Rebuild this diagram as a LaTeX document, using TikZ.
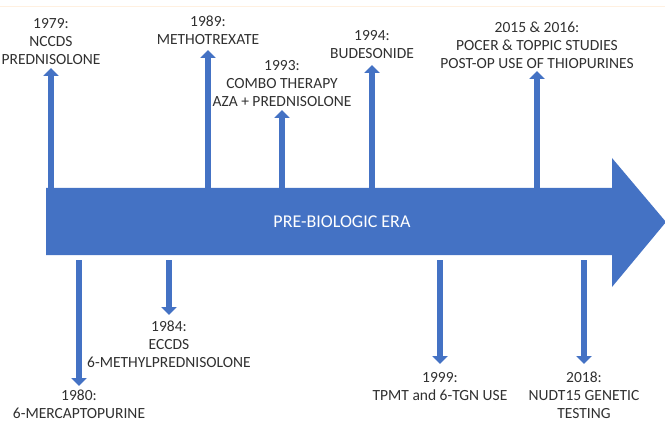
\documentclass[tikz,border=0pt]{standalone}
\usepackage{fontspec}
\setmainfont{Carlito}
\usetikzlibrary{arrows.meta,positioning}
\usepackage{xcolor}
\definecolor{eraBlue}{HTML}{4472C4}
\definecolor{labelGray}{HTML}{303030}

\begin{document}
\begin{tikzpicture}[x=1pt, y=1pt,
    every node/.style={
        align=center,
        font=\fontsize{15.5}{18}\selectfont,
        text=labelGray,
        inner sep=2pt
    },
    event_arrow/.style={
        line width=6pt,
        eraBlue,
        -{Triangle[width=15pt, length=8pt]}
    },
    tip_gap/.style={shorten >=#1}]
    \useasboundingbox (0, 0) rectangle (665, 424);
    \draw[orange!12, line width=0.8pt] (0, 418) -- (665, 418);
    \fill[eraBlue] (46, 236) -- (612, 236) -- (612, 266) -- (666, 202)
        -- (612, 137) -- (612, 169) -- (46, 169) -- cycle;
    \coordinate (bar_top) at (0, 236);
    \coordinate (bar_bottom) at (0, 164);
    \node (era) [text=white, font=\fontsize{18}{20}\selectfont] at (344, 202)
    {
        PRE-BIOLOGIC ERA
    };
    \node (label_1979) [anchor=south] at (51, 357)
    {
        1979:\\NCCDS\\PREDNISOLONE
    };
    \node (label_1989) [anchor=south] at (208, 377)
    {
        1989:\\METHOTREXATE
    };
    \node (label_1993) [anchor=south] at (282, 315)
    {
        1993:\\COMBO THERAPY\\AZA + PREDNISOLONE
    };
    \node (label_1994) [anchor=south] at (372, 363)
    {
        1994:\\BUDESONIDE
    };
    \node (label_2015) [anchor=south] at (537, 353)
    {
        2015 \& 2016:\\POCER \& TOPPIC STUDIES\\POST-OP USE OF THIOPURINES
    };
    \node (label_1980) [anchor=north] at (79, 36)
    {
        1980:\\6-MERCAPTOPURINE
    };
    \node (label_1984) [anchor=north] at (169, 105)
    {
        1984:\\ECCDS\\6-METHYLPREDNISOLONE
    };
    \node (label_1999) [anchor=north] at (440, 54)
    {
        1999:\\TPMT and 6-TGN USE
    };
    \node (label_2018) [anchor=north] at (584, 54)
    {
        2018:\\NUDT15 GENETIC\\TESTING
    };
    \draw[event_arrow, tip_gap=1pt] (label_1979.south |- bar_top) to (label_1979.south);
    \draw[event_arrow, tip_gap=3pt] (label_1989.south |- bar_top) to (label_1989.south);
    \draw[event_arrow, tip_gap=1pt] (label_1993.south |- bar_top) to (label_1993.south);
    \draw[event_arrow, tip_gap=4pt] (label_1994.south |- bar_top) to (label_1994.south);
    \draw[event_arrow] (label_2015.south |- bar_top) to (label_2015.south);
    \draw[event_arrow, tip_gap=2pt] (label_1980.north |- bar_bottom) to (label_1980.north);
    \draw[event_arrow, tip_gap=4pt] (label_1984.north |- bar_bottom) to (label_1984.north);
    \draw[event_arrow, tip_gap=6pt] (label_1999.north |- bar_bottom) to (label_1999.north);
    \draw[event_arrow, tip_gap=6pt] (label_2018.north |- bar_bottom) to (label_2018.north);
\end{tikzpicture}
\end{document}
